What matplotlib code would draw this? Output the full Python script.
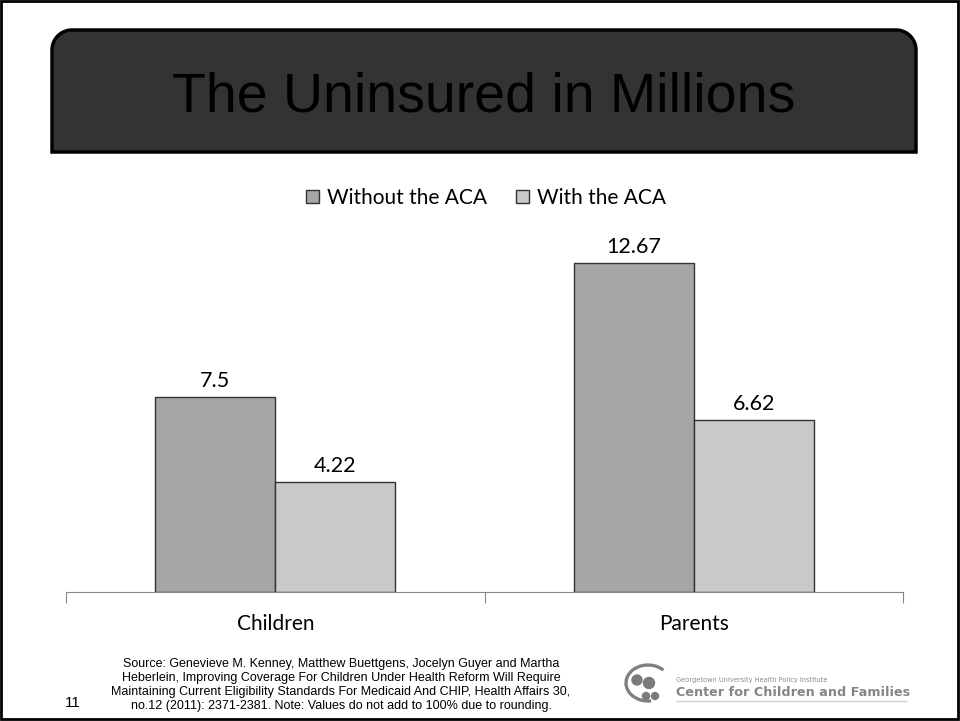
import numpy as np
import matplotlib.pyplot as plt
from matplotlib.patches import Rectangle, Circle, Arc

# Data
categories = ["Children", "Parents"]
without_aca = [7.5, 12.67]
with_aca = [4.22, 6.62]
series_names = ["Without the ACA", "With the ACA"]
value_labels_without = ["7.5", "12.67"]
value_labels_with = ["4.22", "6.62"]

source_text = ("Source: Genevieve M. Kenney, Matthew Buettgens, Jocelyn Guyer and Martha\n"
               "Heberlein, Improving Coverage For Children Under Health Reform Will Require\n"
               "Maintaining Current Eligibility Standards For Medicaid And CHIP, Health Affairs 30,\n"
               "no.12 (2011): 2371-2381. Note: Values do not add to 100% due to rounding.")

W, H = 960, 721
fig = plt.figure(figsize=(9.6, 7.21), dpi=100)
fig.patch.set_facecolor("white")

def fx(px):
    return px / W

def fy(py):
    return 1 - py / H

# background axes in pixel coordinates for the slide decorations
deco = fig.add_axes([0, 0, 1, 1], zorder=0)
deco.set_xlim(0, W)
deco.set_ylim(H, 0)
deco.axis("off")

# outer slide frame
deco.add_patch(Rectangle((1, 1), W - 3, H - 3, fill=False, edgecolor="black", linewidth=2))

# title box with rounded top corners
r = 20
x0, x1, y0, y1 = 52, 916, 30, 152
theta = np.linspace(np.pi, 1.5 * np.pi, 20)
theta2 = np.linspace(1.5 * np.pi, 2 * np.pi, 20)
px = np.concatenate([[x0], x0 + r + r * np.cos(theta), x1 - r + r * np.cos(theta2), [x1, x0]])
py = np.concatenate([[y1], y0 + r + r * np.sin(theta), y0 + r + r * np.sin(theta2), [y1, y1]])
deco.fill(px, py, facecolor="#333333", edgecolor="black", linewidth=2.5)
deco.text((x0 + x1) / 2, 112, "The Uninsured in Millions", ha="center", va="baseline",
          fontsize=40, color="black", family="Liberation Sans")

# page number and source
deco.text(73, 707, "11", ha="center", va="baseline", fontsize=11, family="Liberation Sans")
deco.text(341, 685, source_text, ha="center", va="center", fontsize=9,
          family="Liberation Sans", linespacing=1.2)

# logo (approximation)
deco.add_patch(Arc((648, 683), 44, 36, theta1=80, theta2=320, color="#808080", linewidth=2.4))
for cx, cy, rr in [(637, 680, 5), (649, 683, 5.5), (646, 696, 3.5), (655, 696, 3.5)]:
    deco.add_patch(Circle((cx, cy), rr, color="#7a7a7a"))
deco.text(676, 680, "Georgetown University Health Policy Institute", fontsize=4.8,
          color="#8a8a8a", va="center", family="DejaVu Sans")
deco.text(676, 693, "Center for Children and Families", fontsize=9.2,
          color="#858585", va="center", family="DejaVu Sans", fontweight="bold")
deco.plot([676, 906], [701, 701], color="#d0d0d0", linewidth=1)

# chart
ax = fig.add_axes([fx(66), fy(592), fx(903 - 66), 364 / H], zorder=1)
ax.patch.set_alpha(0)
x = np.arange(len(categories))
bw = 0.287
b1 = ax.bar(x - bw / 2, without_aca, bw, color="#a6a6a6", edgecolor="#333333", linewidth=1,
            label=series_names[0])
b2 = ax.bar(x + bw / 2, with_aca, bw, color="#c9c9c9", edgecolor="#333333", linewidth=1,
            label=series_names[1])
for bars, labels in [(b1, value_labels_without), (b2, value_labels_with)]:
    for rect, lab in zip(bars, labels):
        ax.text(rect.get_x() + rect.get_width() / 2, rect.get_height() + 0.38, lab,
                ha="center", va="baseline", fontsize=15.5, family="Lato")

ax.set_xlim(-0.5, 1.5)
ax.set_ylim(0, 14)
ax.set_yticks([])
ax.set_xticks([-0.5, 0.5, 1.5])
ax.set_xticklabels([])
ax.tick_params(axis="x", direction="out", length=8, color="#888888")
for side in ["top", "right", "left"]:
    ax.spines[side].set_visible(False)
ax.spines["bottom"].set_color("#888888")
for xi, cat in zip(x, categories):
    ax.text(xi, -1.45, cat, ha="center", va="baseline", fontsize=15, family="Lato")

fig.legend(handles=[b1, b2], labels=series_names, loc="center", bbox_to_anchor=(fx(486), fy(198)),
           ncol=2, frameon=False, prop={"family": "Lato", "size": 15},
           handlelength=0.6, handleheight=0.6, handletextpad=0.4, columnspacing=1.4)

fig.savefig("out.png", dpi=100)
